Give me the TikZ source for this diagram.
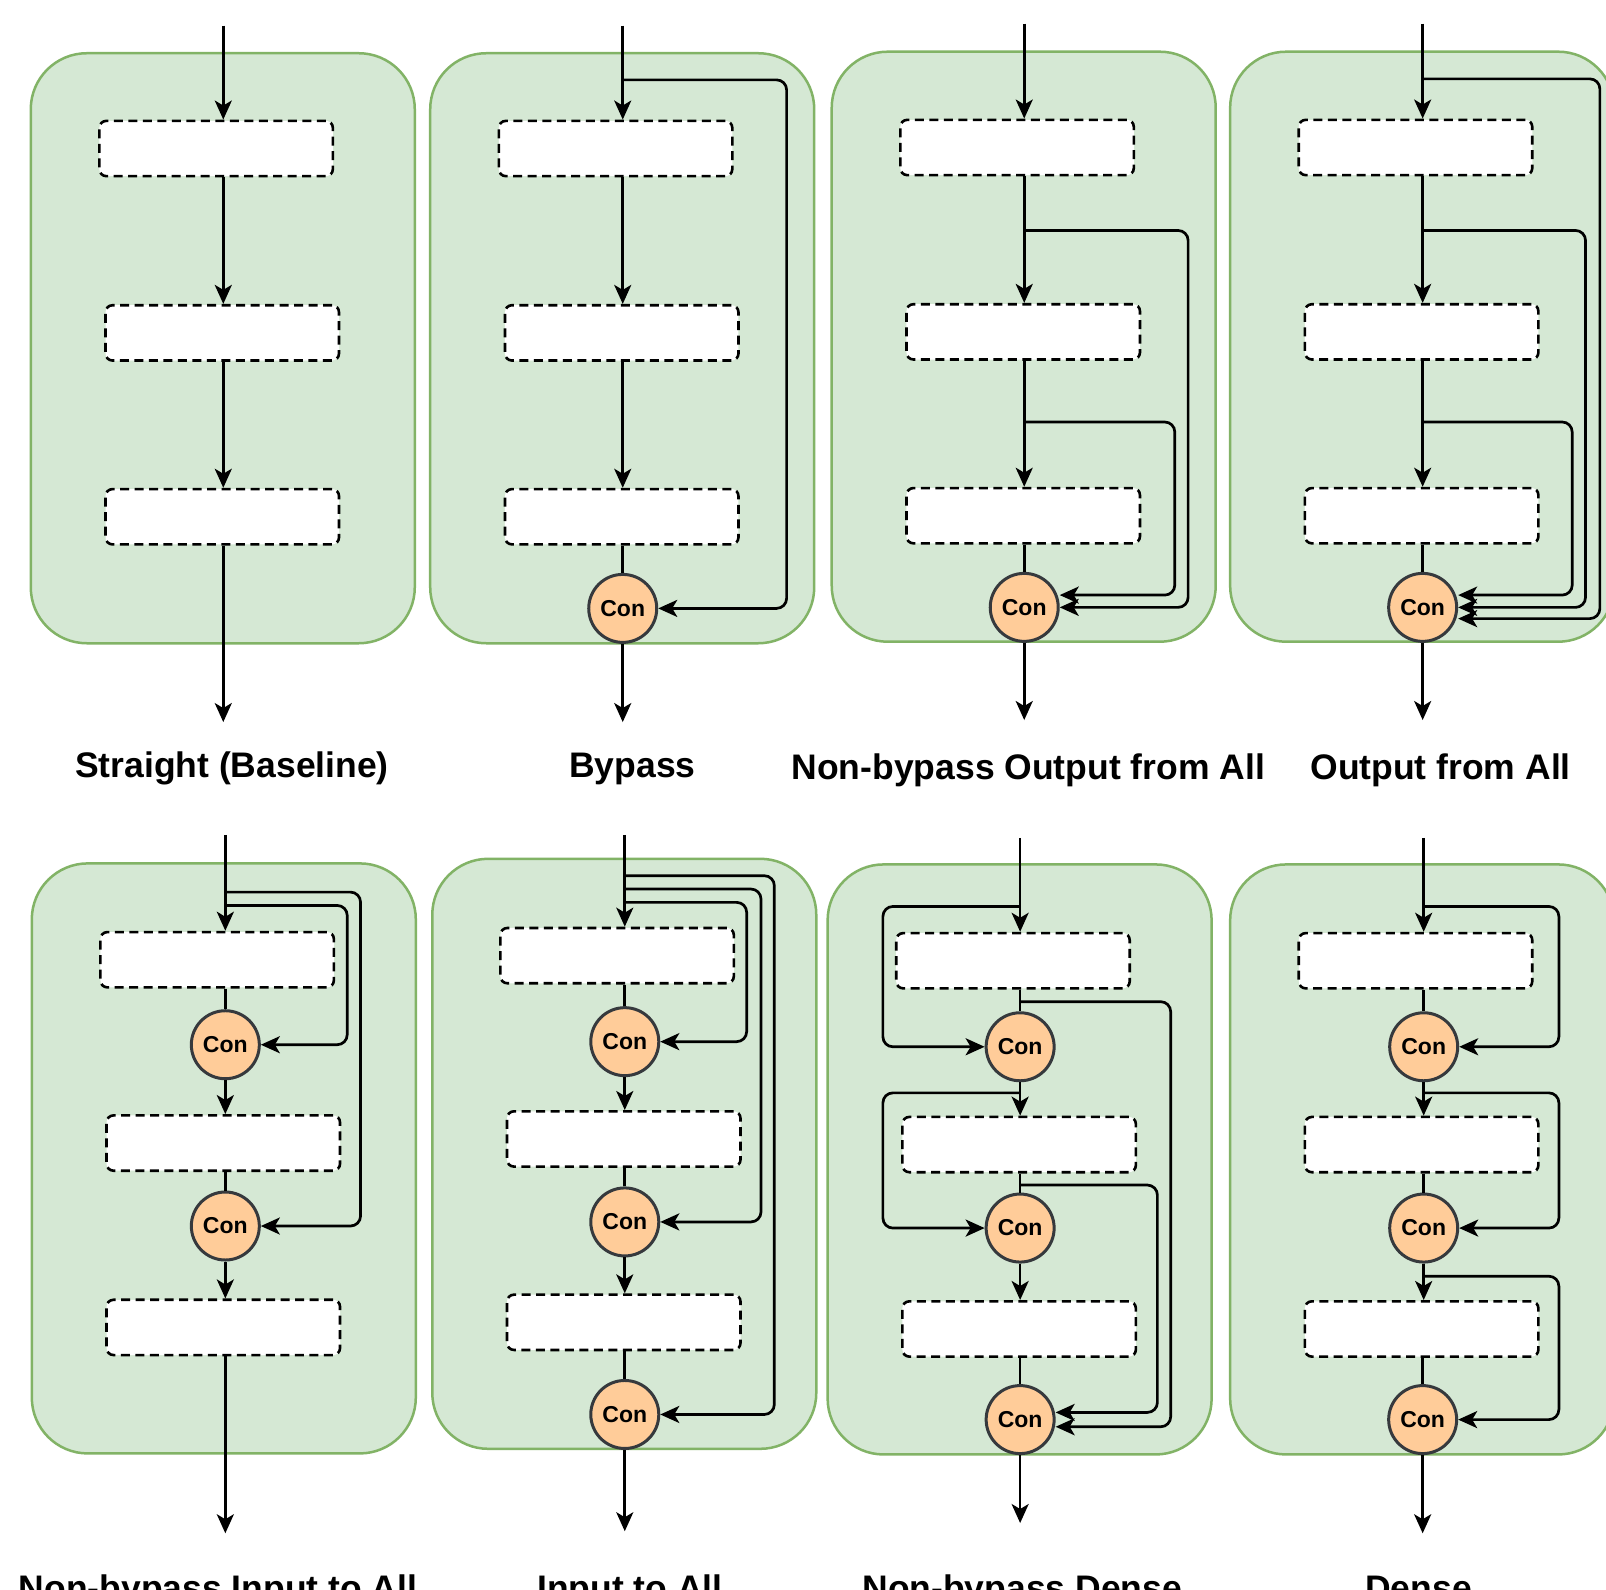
\documentclass[tikz,border=0pt]{standalone}
\usepackage{fontspec}
\setmainfont{Liberation Sans}
\usetikzlibrary{arrows.meta,calc}
\definecolor{gfill}{HTML}{D5E8D4}
\definecolor{gline}{HTML}{82B366}
\definecolor{cfill}{HTML}{FFCC99}
\definecolor{cline}{HTML}{36393D}
\newcommand{\lblfont}{\fontsize{35.5pt}{40pt}\selectfont\bfseries}
\newcommand{\confont}{\fontsize{23pt}{25pt}\selectfont\bfseries}
\begin{document}
\begin{tikzpicture}[x=1.0242pt,y=-1.0242pt,
  panel/.style={draw=gline, fill=gfill, line width=2.5pt, rounded corners=56pt, minimum width=384pt, minimum height=590pt, inner sep=0pt},
  layer/.style={draw=black, fill=white, dash pattern=on 9pt off 5.5pt, line width=2.6pt, rounded corners=7pt, minimum width=233.5pt, minimum height=55.3pt, inner sep=0pt},
  con/.style={circle, draw=cline, fill=cfill, line width=3pt, minimum size=68pt, inner sep=0pt, font=\confont, text=black},
  conn/.style={draw=black, line width=2.7pt, rounded corners=10pt},
  arr/.style={conn, -{Stealth[length=19pt,width=17pt,inset=5pt]}},
  lbl/.style={font=\lblfont, anchor=base, inner sep=0pt}]
\useasboundingbox (0,0) rectangle (1568,1552);
\clip (0,0) rectangle (1568,1552);
\fill[white] (0,0) rectangle (1568,1552);

% ---------- Panel 1: Straight ----------
\node[panel] (f1) at (217.5,340) {};
\coordinate (s1) at (218,0);
\node[layer] (b11) at (211,145) {};
\node[layer] (b12) at (217,325) {};
\node[layer] (b13) at (217,504.5) {};
\coordinate (i1) at (218,25);
\coordinate (o1) at (218,705);
\draw[arr] (i1) -- (b11.north -| s1);
\draw[arr] (b11.south -| s1) -- (b12.north -| s1);
\draw[arr] (b12.south -| s1) -- (b13.north -| s1);
\draw[arr] (b13.south -| s1) -- (o1);
\node[lbl] (l1) at (226.5,759) {Straight (Baseline)};

% ---------- Panel 2: Bypass ----------
\node[panel] (f2) at (607.5,340) {};
\coordinate (s2) at (608,0);
\node[layer] (b21) at (601,145) {};
\node[layer] (b22) at (607,325) {};
\node[layer] (b23) at (607,504.5) {};
\node[con] (c2) at (608,594) {Con};
\coordinate (i2) at (608,25);
\coordinate (o2) at (608,705);
\coordinate (j2) at (608,78);
\draw[arr] (i2) -- (b21.north -| s2);
\draw[arr] (b21.south -| s2) -- (b22.north -| s2);
\draw[arr] (b22.south -| s2) -- (b23.north -| s2);
\draw[conn] (b23.south -| s2) -- (c2.north);
\draw[arr] (c2.south) -- (o2);
\draw[arr] (j2) -- ++(160,0) |- (c2.east);
\node[lbl] (l2) at (617.5,759) {Bypass};

% ---------- Panel 3: Non-bypass Output from All ----------
\node[panel] (f3) at (999.5,338.5) {};
\coordinate (s3) at (1000,0);
\node[layer] (b31) at (993,144) {};
\node[layer] (b32) at (999,324) {};
\node[layer] (b33) at (999,503.5) {};
\node[con] (c3) at (1000,593) {Con};
\coordinate (i3) at (1000,23);
\coordinate (o3) at (1000,703);
\coordinate (j31) at (1000,225);
\coordinate (j32) at (1000,412);
\draw[arr] (i3) -- (b31.north -| s3);
\draw[arr] (b31.south -| s3) -- (b32.north -| s3);
\draw[arr] (b32.south -| s3) -- (b33.north -| s3);
\draw[conn] (b33.south -| s3) -- (c3.north);
\draw[arr] (c3.south) -- (o3);
\draw[arr] (j31) -- ++(160,0) |- (c3.east);
\draw[arr] (j32) -- ++(147,0) |- ($(c3.east)+(0,-12)$);
\node[lbl] (l3) at (1004,761) {Non-bypass Output from All};

% ---------- Panel 4: Output from All ----------
\node[panel] (f4) at (1388.5,338.5) {};
\coordinate (s4) at (1389,0);
\node[layer] (b41) at (1382,144) {};
\node[layer] (b42) at (1388,324) {};
\node[layer] (b43) at (1388,503.5) {};
\node[con] (c4) at (1389,593) {Con};
\coordinate (i4) at (1389,23);
\coordinate (o4) at (1389,703);
\coordinate (j41) at (1389,77);
\coordinate (j42) at (1389,225);
\coordinate (j43) at (1389,412);
\draw[arr] (i4) -- (b41.north -| s4);
\draw[arr] (b41.south -| s4) -- (b42.north -| s4);
\draw[arr] (b42.south -| s4) -- (b43.north -| s4);
\draw[conn] (b43.south -| s4) -- (c4.north);
\draw[arr] (c4.south) -- (o4);
\draw[arr] (j41) -- ++(173,0) |- ($(c4.east)+(0,11)$);
\draw[arr] (j42) -- ++(159,0) |- (c4.east);
\draw[arr] (j43) -- ++(146,0) |- ($(c4.east)+(0,-12)$);
\node[lbl] (l4) at (1406.5,761) {Output from All};

% ---------- Panel 5: Non-bypass Input to All ----------
\node[panel] (f5) at (218.5,1131) {};
\coordinate (s5) at (220,0);
\node[layer] (b51) at (212,937) {};
\node[layer] (b52) at (218,1116) {};
\node[layer] (b53) at (218,1296) {};
\node[con] (c51) at (220,1020) {Con};
\node[con] (c52) at (220,1197) {Con};
\coordinate (i5) at (220,815);
\coordinate (o5) at (220,1497);
\coordinate (j51) at (220,871);
\coordinate (j52) at (220,884);
\draw[arr] (i5) -- (b51.north -| s5);
\draw[conn] (b51.south -| s5) -- (c51.north);
\draw[arr] (c51.south) -- (b52.north -| s5);
\draw[conn] (b52.south -| s5) -- (c52.north);
\draw[arr] (c52.south) -- (b53.north -| s5);
\draw[arr] (b53.south -| s5) -- (o5);
\draw[arr] (j51) -- ++(132,0) |- (c52.east);
\draw[arr] (j52) -- ++(119,0) |- (c51.east);
\node[lbl] (l5) at (213,1563) {Non-bypass Input to All};

% ---------- Panel 6: Input to All ----------
\node[panel] (f6) at (609.5,1126.5) {};
\coordinate (s6) at (610,0);
\node[layer] (b61) at (602.5,933) {};
\node[layer] (b62) at (609,1112) {};
\node[layer] (b63) at (609,1291) {};
\node[con] (c61) at (610,1017) {Con};
\node[con] (c62) at (610,1193) {Con};
\node[con] (c63) at (610,1381) {Con};
\coordinate (i6) at (610,815);
\coordinate (o6) at (610,1495);
\coordinate (j61) at (610,855);
\coordinate (j62) at (610,868);
\coordinate (j63) at (610,881);
\draw[arr] (i6) -- (b61.north -| s6);
\draw[conn] (b61.south -| s6) -- (c61.north);
\draw[arr] (c61.south) -- (b62.north -| s6);
\draw[conn] (b62.south -| s6) -- (c62.north);
\draw[arr] (c62.south) -- (b63.north -| s6);
\draw[conn] (b63.south -| s6) -- (c63.north);
\draw[arr] (c63.south) -- (o6);
\draw[arr] (j61) -- ++(146,0) |- (c63.east);
\draw[arr] (j62) -- ++(133,0) |- (c62.east);
\draw[arr] (j63) -- ++(119,0) |- (c61.east);
\node[lbl] (l6) at (615,1563) {Input to All};

% ---------- Panel 7: Non-bypass Dense ----------
\node[panel] (f7) at (995.5,1132) {};
\coordinate (s7) at (996,0);
\node[layer] (b71) at (989,938) {};
\node[layer] (b72) at (995,1117.5) {};
\node[layer] (b73) at (995,1297.5) {};
\node[con] (c71) at (996,1022) {Con};
\node[con] (c72) at (996,1199) {Con};
\node[con] (c73) at (996,1386) {Con};
\coordinate (i7) at (996,818);
\coordinate (o7) at (996,1487);
\coordinate (j71) at (996,885);
\coordinate (j72) at (996,978);
\coordinate (j73) at (996,1067);
\coordinate (j74) at (996,1157);
\draw[arr] (i7) -- (b71.north -| s7);
\draw[conn] (b71.south -| s7) -- (c71.north);
\draw[arr] (c71.south) -- (b72.north -| s7);
\draw[conn] (b72.south -| s7) -- (c72.north);
\draw[arr] (c72.south) -- (b73.north -| s7);
\draw[conn] (b73.south -| s7) -- (c73.north);
\draw[arr] (c73.south) -- (o7);
\draw[arr] (j71) -- ++(-134,0) |- (c71.west);
\draw[arr] (j73) -- ++(-134,0) |- (c72.west);
\draw[arr] (j72) -- ++(147,0) |- ($(c73.east)+(0,7)$);
\draw[arr] (j74) -- ++(134,0) |- ($(c73.east)+(0,-7)$);
\node[lbl] (l7) at (998,1563) {Non-bypass Dense};

% ---------- Panel 8: Dense ----------
\node[panel] (f8) at (1388.5,1132) {};
\coordinate (s8) at (1390,0);
\node[layer] (b81) at (1382,938) {};
\node[layer] (b82) at (1388,1117.5) {};
\node[layer] (b83) at (1388,1297.5) {};
\node[con] (c81) at (1390,1022) {Con};
\node[con] (c82) at (1390,1199) {Con};
\node[con] (c83) at (1389,1386) {Con};
\coordinate (i8) at (1390,818);
\coordinate (o8) at (1389,1497);
\coordinate (j81) at (1390,885);
\coordinate (j82) at (1390,1067);
\coordinate (j83) at (1390,1246);
\draw[arr] (i8) -- (b81.north -| s8);
\draw[conn] (b81.south -| s8) -- (c81.north);
\draw[arr] (c81.south) -- (b82.north -| s8);
\draw[conn] (b82.south -| s8) -- (c82.north);
\draw[arr] (c82.south) -- (b83.north -| s8);
\draw[conn] (b83.south -| c83) -- (c83.north);
\draw[arr] (c83.south) -- (o8);
\draw[arr] (j81) -- ++(132,0) |- (c81.east);
\draw[arr] (j82) -- ++(132,0) |- (c82.east);
\draw[arr] (j83) -- ++(132,0) |- (c83.east);
\node[lbl] (l8) at (1385,1563) {Dense};
\end{tikzpicture}
\end{document}
